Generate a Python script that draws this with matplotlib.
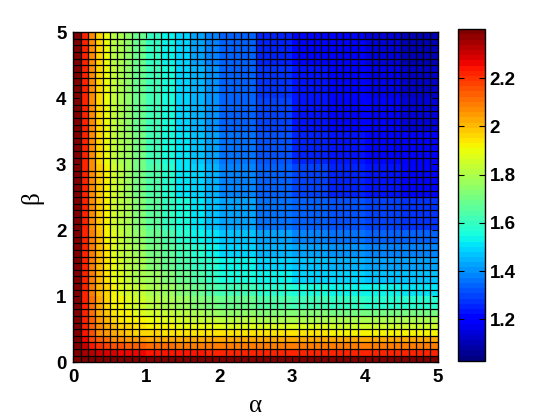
import numpy as np
import matplotlib
matplotlib.use("Agg")
import matplotlib.pyplot as plt

# Cell edges of the read-off table (alpha across, beta up)
alpha_edges = [0, 0.1, 0.2, 0.3, 0.4, 0.5, 0.6, 0.7, 0.8, 1.0, 1.2, 1.4, 1.6,
               1.8, 2.0, 2.5, 3.0, 3.5, 4.0, 4.5, 5.0]
beta_edges = [0, 0.1, 0.2, 0.3, 0.4, 0.5, 0.6, 0.7, 0.8, 1.0, 1.2, 1.4, 1.6,
              1.8, 2.0, 2.5, 3.0, 3.5, 4.0, 4.5, 5.0]

# Values (rows: beta from bottom to top)
Z = [
    [2.40, 2.40, 2.40, 2.40, 2.40, 2.40, 2.40, 2.40, 2.40, 2.40, 2.40, 2.40, 2.40, 2.40, 2.40, 2.40, 2.40, 2.40, 2.40, 2.40],
    [2.40, 2.35, 2.32, 2.30, 2.29, 2.28, 2.27, 2.27, 2.26, 2.25, 2.25, 2.24, 2.24, 2.23, 2.23, 2.23, 2.22, 2.22, 2.22, 2.22],
    [2.40, 2.30, 2.24, 2.20, 2.18, 2.16, 2.15, 2.14, 2.13, 2.12, 2.11, 2.10, 2.10, 2.10, 2.10, 2.10, 2.10, 2.09, 2.09, 2.09],
    [2.40, 2.26, 2.18, 2.13, 2.11, 2.08, 2.06, 2.05, 2.04, 2.03, 2.02, 2.02, 2.02, 2.02, 2.03, 2.03, 2.03, 2.02, 2.02, 2.02],
    [2.40, 2.24, 2.15, 2.08, 2.04, 2.02, 2.00, 1.99, 1.97, 1.96, 1.95, 1.95, 1.95, 1.95, 1.95, 1.94, 1.94, 1.93, 1.93, 1.93],
    [2.40, 2.22, 2.13, 2.06, 2.02, 2.00, 1.97, 1.96, 1.94, 1.92, 1.91, 1.90, 1.89, 1.89, 1.88, 1.87, 1.87, 1.86, 1.86, 1.86],
    [2.40, 2.22, 2.13, 2.04, 2.00, 1.97, 1.95, 1.93, 1.91, 1.89, 1.87, 1.86, 1.84, 1.83, 1.81, 1.80, 1.79, 1.79, 1.78, 1.78],
    [2.40, 2.22, 2.12, 2.02, 1.99, 1.95, 1.93, 1.91, 1.88, 1.86, 1.84, 1.81, 1.79, 1.77, 1.75, 1.73, 1.72, 1.71, 1.71, 1.71],
    [2.40, 2.22, 2.11, 2.02, 1.97, 1.93, 1.91, 1.88, 1.85, 1.82, 1.79, 1.76, 1.73, 1.71, 1.68, 1.65, 1.62, 1.60, 1.58, 1.57],
    [2.40, 2.22, 2.10, 2.01, 1.96, 1.91, 1.88, 1.86, 1.83, 1.79, 1.76, 1.72, 1.68, 1.65, 1.61, 1.58, 1.56, 1.54, 1.53, 1.52],
    [2.40, 2.22, 2.09, 2.01, 1.95, 1.90, 1.87, 1.84, 1.80, 1.77, 1.72, 1.68, 1.64, 1.60, 1.56, 1.53, 1.50, 1.49, 1.47, 1.46],
    [2.40, 2.22, 2.09, 2.01, 1.95, 1.89, 1.85, 1.82, 1.78, 1.73, 1.69, 1.64, 1.60, 1.57, 1.53, 1.49, 1.46, 1.44, 1.43, 1.42],
    [2.40, 2.22, 2.09, 2.01, 1.94, 1.88, 1.84, 1.81, 1.76, 1.71, 1.66, 1.61, 1.57, 1.54, 1.49, 1.45, 1.42, 1.40, 1.39, 1.38],
    [2.40, 2.22, 2.09, 2.00, 1.93, 1.87, 1.83, 1.80, 1.74, 1.69, 1.63, 1.58, 1.54, 1.51, 1.46, 1.42, 1.39, 1.37, 1.35, 1.34],
    [2.40, 2.22, 2.08, 1.99, 1.92, 1.86, 1.82, 1.78, 1.72, 1.66, 1.60, 1.55, 1.51, 1.47, 1.42, 1.37, 1.33, 1.31, 1.29, 1.28],
    [2.40, 2.22, 2.07, 1.98, 1.91, 1.85, 1.81, 1.77, 1.71, 1.64, 1.57, 1.52, 1.48, 1.44, 1.39, 1.34, 1.29, 1.26, 1.24, 1.22],
    [2.40, 2.22, 2.07, 1.97, 1.90, 1.84, 1.80, 1.76, 1.70, 1.62, 1.56, 1.51, 1.46, 1.42, 1.37, 1.31, 1.26, 1.23, 1.20, 1.18],
    [2.40, 2.22, 2.06, 1.97, 1.90, 1.83, 1.79, 1.75, 1.69, 1.61, 1.55, 1.50, 1.45, 1.41, 1.35, 1.29, 1.24, 1.21, 1.18, 1.15],
    [2.40, 2.22, 2.06, 1.97, 1.89, 1.83, 1.78, 1.74, 1.68, 1.61, 1.55, 1.49, 1.44, 1.40, 1.34, 1.28, 1.23, 1.20, 1.16, 1.12],
    [2.40, 2.22, 2.06, 1.97, 1.89, 1.82, 1.78, 1.74, 1.68, 1.60, 1.54, 1.48, 1.43, 1.39, 1.33, 1.26, 1.21, 1.18, 1.14, 1.10],
]

color_min, color_max = 1.028, 2.403
axis_ticks = [0, 1, 2, 3, 4, 5]
cbar_ticks = [1.2, 1.4, 1.6, 1.8, 2.0, 2.2]
cell_step = 0.1

fig = plt.figure(figsize=(5.6, 4.2), dpi=100)
ax = fig.add_axes([0.131, 0.1374, 0.6506, 0.7857])
cax = fig.add_axes([0.8184, 0.1412, 0.0482, 0.789])

cmap = plt.get_cmap("jet", 64)
mesh = ax.pcolormesh(alpha_edges, beta_edges, np.array(Z), cmap=cmap,
                     vmin=color_min, vmax=color_max, shading="flat",
                     antialiased=False)

grid_pos = np.arange(0, 5 + cell_step / 2, cell_step)
ax.set_xticks(grid_pos, minor=True)
ax.set_yticks(grid_pos, minor=True)
ax.grid(which="minor", color="black", linewidth=0.9)
ax.set_axisbelow(False)
ax.set_xlim(0, 5)
ax.set_ylim(0, 5)

tick_font = dict(family="Liberation Sans", weight="bold", size=13.5)
ax.set_xticks(axis_ticks)
ax.set_yticks(axis_ticks)
ax.set_xticklabels([str(t) for t in axis_ticks], fontdict=tick_font)
ax.set_yticklabels([str(t) for t in axis_ticks], fontdict=tick_font)
ax.tick_params(which="major", direction="in", length=4, top=True, right=True, pad=5)
ax.tick_params(which="minor", length=0)
for s in ax.spines.values():
    s.set_linewidth(1.0)

ax.set_xlabel("α", family="Liberation Serif", size=18, labelpad=6)
ax.set_ylabel("β", family="Liberation Serif", size=18, labelpad=9)

cb = fig.colorbar(mesh, cax=cax, ticks=cbar_ticks)
cb.ax.set_yticklabels([f"{t:g}" for t in cbar_ticks], fontdict=tick_font)
cb.ax.tick_params(direction="in", length=4, left=True, right=True, pad=3)
cb.outline.set_linewidth(1.0)

fig.savefig("out.png", dpi=100)
